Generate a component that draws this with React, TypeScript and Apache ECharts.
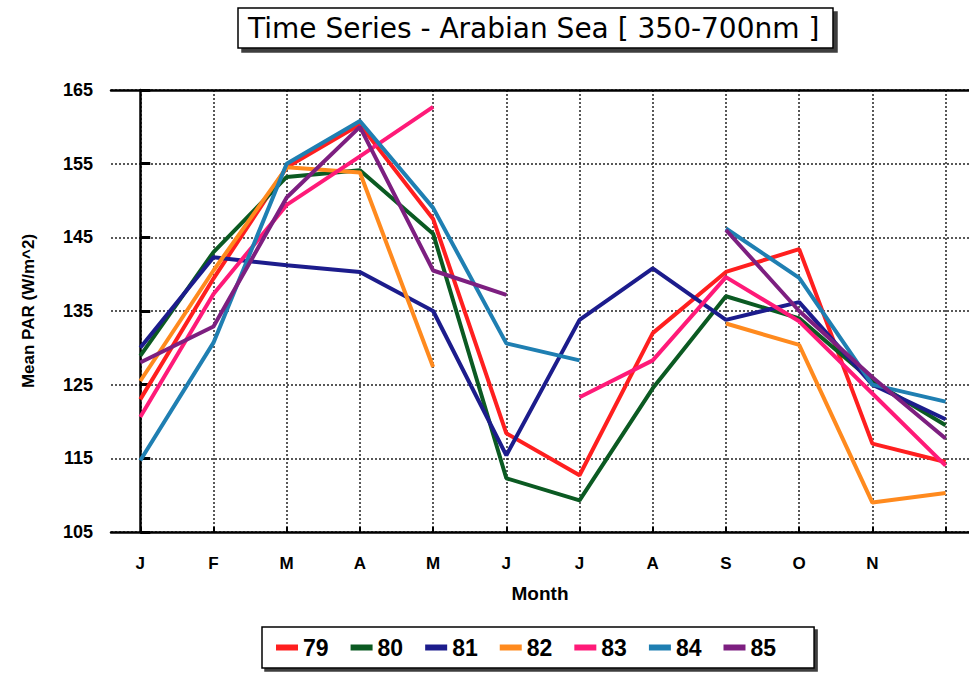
import React, { useEffect, useRef } from "react";
import * as echarts from "echarts";

const monthLabels = ["J", "F", "M", "A", "M", "J", "J", "A", "S", "O", "N", ""];
const yTicks = [105, 115, 125, 135, 145, 155, 165];
const seriesNames = ["79", "80", "81", "82", "83", "84", "85"];
const seriesColors = ["#ff1f1f", "#0b5a22", "#1c1c8c", "#ff8a1e", "#ff1a78", "#1f7fb2", "#7d1f80"];

const s79 = [123, 139.4, 154.5, 160.3, 147.5, 118.4, 112.7, 132, 140.3, 143.4, 117, 114.5];
const s80 = [128.9, 143, 153.2, 154.1, 145.5, 112.3, 109.3, 124.5, 137, 134, 125.5, 119.5];
const s81 = [130, 142.3, 141.2, 140.3, 135, 115.4, 133.8, 140.8, 133.8, 136.2, 125, 120.3];
const s82 = [125.5, 140.5, 154.5, 153.8, 127.4, null, null, null, 133.3, 130.4, 109, 110.3];
const s83 = [120.6, 137.3, 149.4, 156, 162.7, null, 123.3, 128.3, 139.6, 133.6, 123.8, 114];
const s84 = [114.7, 130.7, 155, 160.8, 149, 130.6, 128.3, null, 146.2, 139.5, 125, 122.7];
const s85 = [128, 132.9, 150.4, 160, 140.5, 137.2, null, null, 146, 135, 126, 117.7];

const allSeries = [s79, s80, s81, s82, s83, s84, s85];
const monthIdx = monthLabels.map((_, i) => i);

export default function App() {
  const ref = useRef<HTMLDivElement>(null);
  useEffect(() => {
    if (!ref.current) return;
    const chart = echarts.init(ref.current, null, { renderer: "svg" });
    const font = "'Liberation Sans', Arial, sans-serif";
    const option: any = {
      animation: false,
      backgroundColor: "#ffffff",
      title: {
        text: "Time Series - Arabian Sea [ 350-700nm ]",
        left: 238,
        top: 8,
        padding: [6, 14, 6, 10],
        borderColor: "#000",
        borderWidth: 1.5,
        backgroundColor: "#fff",
        shadowColor: "rgba(40,40,40,0.9)",
        shadowOffsetX: 4,
        shadowOffsetY: 4,
        shadowBlur: 1,
        textStyle: { fontFamily: "'DejaVu Sans', sans-serif", fontSize: 28, fontWeight: "normal", color: "#000" },
      },
      legend: {
        left: 262,
        top: 627,
        padding: [9, 38, 9, 14],
        borderColor: "#000",
        borderWidth: 1.5,
        backgroundColor: "#fff",
        shadowColor: "rgba(40,40,40,0.9)",
        shadowOffsetX: 3,
        shadowOffsetY: 3,
        shadowBlur: 1,
        itemWidth: 22,
        itemHeight: 6,
        itemGap: 22,
        icon: "rect",
        data: seriesNames,
        textStyle: {
          fontFamily: font,
          fontSize: 23,
          fontWeight: "bold",
          color: "#000",
        },
      },
      grid: { left: 111, top: 90, right: 0, bottom: 144, containLabel: false },
      xAxis: [
        {
          type: "value",
          min: -0.4,
          max: 11.32,
          axisLine: { show: true, lineStyle: { color: "#000", width: 2.5 } },
          axisTick: {
            show: true,
            inside: true,
            length: 5,
            lineStyle: { color: "#000", width: 2 },
            customValues: monthIdx,
          },
          axisLabel: {
            show: true,
            customValues: monthIdx.slice(0, 11),
            formatter: (v: number) => monthLabels[Math.round(v)] ?? "",
            margin: 23,
            fontFamily: font,
            fontSize: 17,
            fontWeight: "bold",
            color: "#000",
          },
          splitLine: { show: true, lineStyle: { color: "#222", width: 1.5, type: [2, 2] } },
          name: "Month",
          nameLocation: "middle",
          nameGap: 52,
          nameTextStyle: { fontFamily: font, fontSize: 19, fontWeight: "bold", color: "#000" },
        },
        {
          type: "value",
          position: "top",
          min: -0.4,
          max: 11.32,
          axisLine: { show: true, lineStyle: { color: "#000", width: 2.5 } },
          axisTick: { show: false },
          axisLabel: { show: false },
          splitLine: { show: false },
        },
      ],
      yAxis: {
        type: "value",
        min: yTicks[0],
        max: yTicks[yTicks.length - 1],
        interval: 10,
        axisLine: { show: true, lineStyle: { color: "#000", width: 2.5 } },
        axisTick: { show: true, inside: true, length: 10, lineStyle: { color: "#000", width: 3 } },
        axisLabel: {
          margin: 18,
          fontFamily: font,
          fontSize: 18,
          fontWeight: "bold",
          color: "#000",
        },
        splitLine: { show: true, lineStyle: { color: "#222", width: 1.5, type: [2, 2] } },
        name: "Mean PAR (W/m^2)",
        nameLocation: "middle",
        nameGap: 74,
        nameTextStyle: { fontFamily: font, fontSize: 17, fontWeight: "bold", color: "#000" },
      },
      series: allSeries.map((vals, k) => ({
        name: seriesNames[k],
        type: "line",
        xAxisIndex: 0,
        symbol: "none",
        connectNulls: false,
        color: seriesColors[k],
        lineStyle: { width: 4, color: seriesColors[k] },
        data: vals.map((v, i) => [i, v === null ? "-" : v]),
      })),
    };
    chart.setOption(option);
    return () => chart.dispose();
  }, []);
  return (
    <div
      ref={ref}
      style={{ position: "fixed", left: 0, top: 0, width: 969, height: 676 }}
    />
  );
}
